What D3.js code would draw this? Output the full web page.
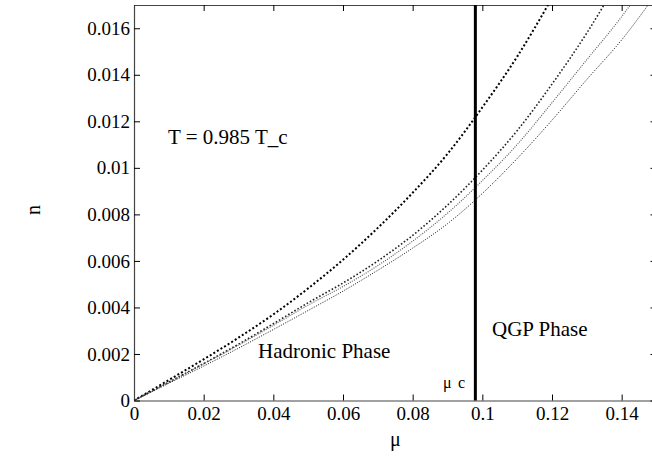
<!DOCTYPE html>
<html><head><meta charset="utf-8">
<script src="https://cdn.jsdelivr.net/npm/d3@7"></script>
<style>body{margin:0;background:#fff}svg{display:block}</style>
</head><body><svg id="c" width="652" height="466"></svg>
<script>
const muTicks = [0, 0.02, 0.04, 0.06, 0.08, 0.1, 0.12, 0.14];
const nTicks = [0, 0.002, 0.004, 0.006, 0.008, 0.01, 0.012, 0.014, 0.016];
const muGrid = [0, 0.01, 0.02, 0.03, 0.04, 0.05, 0.06, 0.07, 0.08, 0.09, 0.10, 0.11, 0.12, 0.13, 0.14, 0.15];
const curve1 = [0, 0.00088, 0.00177, 0.0027, 0.0037, 0.00482, 0.00605, 0.00742, 0.00893, 0.0106, 0.0126, 0.01478, 0.0173];
const curve2 = [0, 0.00079, 0.00159, 0.00242, 0.0033, 0.0042, 0.00505, 0.0060, 0.0071, 0.0084, 0.0099, 0.0116, 0.0136, 0.0158, 0.0183];
const curve3 = [0, 0.00078, 0.00157, 0.00238, 0.00323, 0.0041, 0.0049, 0.0058, 0.00685, 0.00805, 0.00945, 0.0110, 0.0128, 0.01465, 0.0165, 0.0186];
const curve4 = [0, 0.00074, 0.00148, 0.00225, 0.00305, 0.00387, 0.0047, 0.0056, 0.00655, 0.0076, 0.0089, 0.0104, 0.01205, 0.0138, 0.0155, 0.0175];
const muC = 0.098;

const FONT = "Liberation Serif, DejaVu Serif, serif";
const svg = d3.select("#c").attr("font-family", FONT);
const x = d3.scaleLinear().domain([0, 0.15]).range([134, 656.5]);
const y = d3.scaleLinear().domain([0, 0.017]).range([400.5, 5]);
const fmt = d => d === 0 ? "0" : String(+d.toFixed(3));

svg.append("defs").append("clipPath").attr("id","clip").append("rect")
  .attr("x", x(0)).attr("y", y(0.017)).attr("width", x(0.15)-x(0)).attr("height", y(0)-y(0.017));

// axes
const fs = 19;
const gB = svg.append("g").attr("transform", `translate(0,${y(0)})`)
  .call(d3.axisBottom(x).tickValues(muTicks).tickSizeInner(-6).tickSizeOuter(0).tickPadding(6).tickFormat(fmt));
const gT = svg.append("g").attr("transform", `translate(0,${y(0.017)})`)
  .call(d3.axisTop(x).tickValues(muTicks).tickSizeInner(-6).tickSizeOuter(0).tickFormat(""));
const gL = svg.append("g").attr("transform", `translate(${x(0)},0)`)
  .call(d3.axisLeft(y).tickValues(nTicks).tickSizeInner(-6).tickSizeOuter(0).tickPadding(4).tickFormat(fmt));
const gR = svg.append("g").attr("transform", `translate(${x(0.15)},0)`)
  .call(d3.axisRight(y).tickValues(nTicks).tickSizeInner(-6).tickSizeOuter(0).tickFormat(""));
[gB,gT,gL,gR].forEach(g => {
  g.attr("font-family", FONT).attr("font-size", fs);
  g.select(".domain").attr("stroke", "#444").attr("stroke-width", 1.2);
  g.selectAll(".tick line").attr("stroke", "#000").attr("stroke-width", 1);
  g.selectAll(".tick text").attr("font-family", FONT).attr("font-size", fs).attr("fill", "#000");
});

// curves
const line = d3.line().x(d => x(d[0])).y(d => y(d[1])).curve(d3.curveMonotoneX);
const series = [
  {v: curve1, dash: "2,2.2", w: 2, c: "#000"},
  {v: curve2, dash: "1.6,2", w: 1.6, c: "#222"},
  {v: curve3, dash: "1,1.3", w: 1.1, c: "#555"},
  {v: curve4, dash: "1,1.5", w: 1, c: "#111"}
];
const gc = svg.append("g").attr("clip-path", "url(#clip)");
series.forEach(s => {
  gc.append("path").datum(s.v.map((n, i) => [muGrid[i], n]))
    .attr("d", line).attr("fill", "none").attr("stroke", s.c)
    .attr("stroke-width", s.w).attr("stroke-dasharray", s.dash);
});

// critical line
svg.append("line").attr("x1", x(muC)).attr("x2", x(muC)).attr("y1", y(0)).attr("y2", y(0.017))
  .attr("stroke", "#000").attr("stroke-width", 3);

// labels
const txt = (px, py, s, size, anchor) => svg.append("text").attr("x", px).attr("y", py)
  .attr("text-anchor", anchor || "start").attr("font-size", size).attr("font-family", FONT).attr("fill", "#000").text(s);
txt(168, 144, "T = 0.985 T_c", 21);
txt(258, 358, "Hadronic Phase", 21);
txt(492, 336, "QGP Phase", 21);
txt(443, 388, "μ", 16);
txt(458, 388, "c", 16);
txt(x(0.075), 446, "μ", 20, "middle");
svg.append("text").attr("transform", "translate(40,210) rotate(-90)").attr("text-anchor", "middle")
  .attr("font-size", 20).attr("font-family", FONT).attr("fill", "#000").text("n");
</script></body></html>
